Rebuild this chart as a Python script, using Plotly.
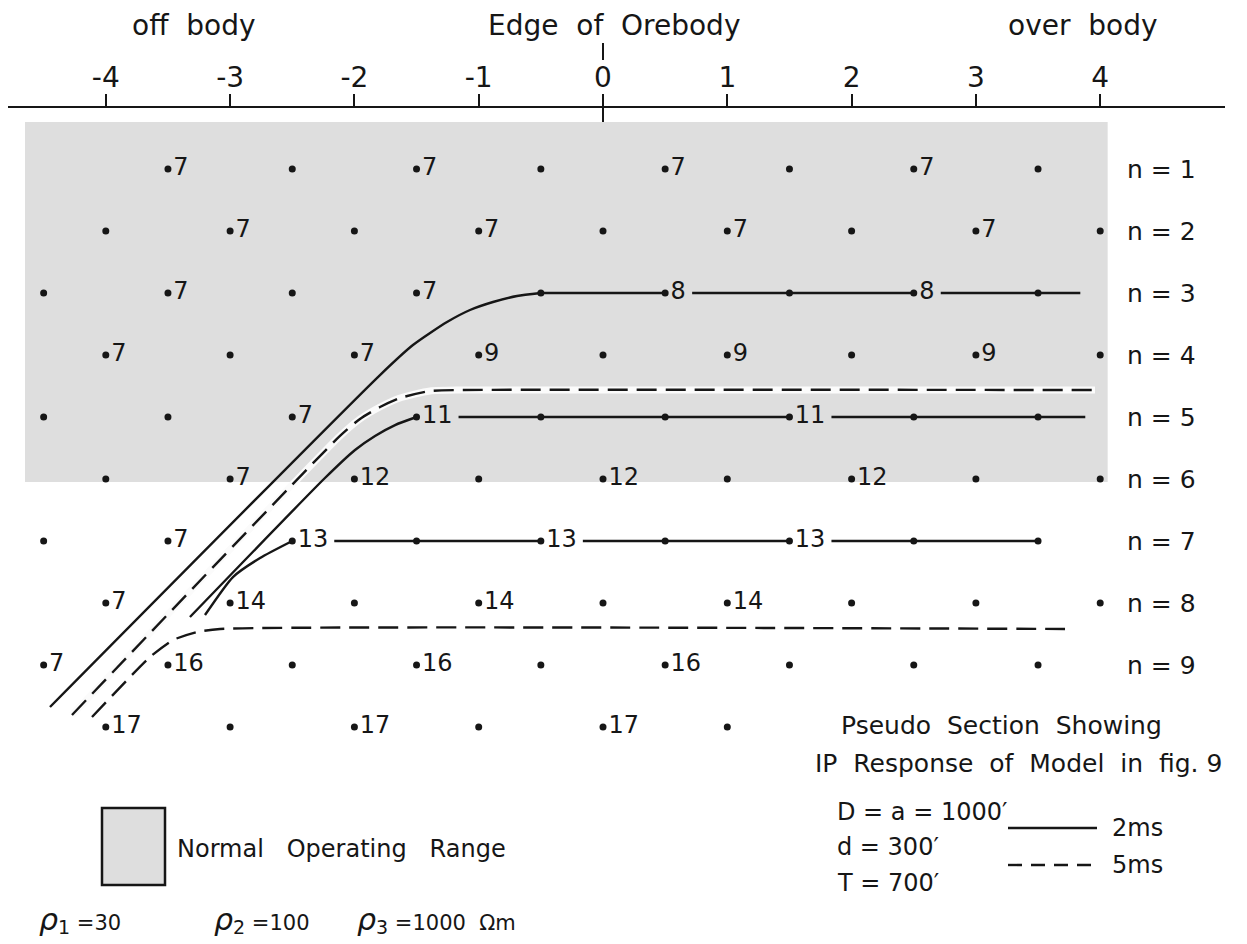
import plotly.graph_objects as go

# ---------------- data ----------------
X_ODD = [-4.5, -3.5, -2.5, -1.5, -0.5, 0.5, 1.5, 2.5, 3.5]
X_EVEN = [-4, -3, -2, -1, 0, 1, 2, 3, 4]

N_LEVELS = [1, 2, 3, 4, 5, 6, 7, 8, 9, 10]

N1_X = X_ODD[1:]
N1_IP = [7, None, 7, None, 7, None, 7, None]
N2_X = X_EVEN
N2_IP = [None, 7, None, 7, None, 7, None, 7, None]
N3_X = X_ODD
N3_IP = [None, 7, None, 7, None, 8, None, 8, None]
N4_X = X_EVEN
N4_IP = [7, None, 7, 9, None, 9, None, 9, None]
N5_X = X_ODD
N5_IP = [None, None, 7, 11, None, None, 11, None, None]
N6_X = X_EVEN
N6_IP = [None, 7, 12, None, 12, None, 12, None, None]
N7_X = X_ODD
N7_IP = [None, 7, 13, None, 13, None, 13, None, None]
N8_X = X_EVEN
N8_IP = [7, 14, None, 14, None, 14, None, None, None]
N9_X = X_ODD
N9_IP = [7, 16, None, 16, None, 16, None, None, None]
N10_X = X_EVEN[:6]
N10_IP = [17, None, 17, None, 17, None]

ROW_X = [N1_X, N2_X, N3_X, N4_X, N5_X, N6_X, N7_X, N8_X, N9_X, N10_X]
ROW_IP = [N1_IP, N2_IP, N3_IP, N4_IP, N5_IP, N6_IP, N7_IP, N8_IP, N9_IP, N10_IP]

TICK_VALS = [-4, -3, -2, -1, 0, 1, 2, 3, 4]
TICK_TEXT = ["-4", "-3", "-2", "-1", "0", "1", "2", "3", "4"]

# contour lines (bend part: X, n), then horizontal part along a row
A_BEND_X = [-4.449, -1.794, -1.529, -1.255, -1.070, -0.885, -0.692, -0.5]
A_BEND_N = [9.677, 4.323, 3.839, 3.468, 3.274, 3.145, 3.048, 3.0]
A_FLAT = (3, -0.5, 3.84)          # 2 ms

B_X = [-4.272, -2.116, -1.955, -1.794, -1.633, -1.392, -1.126, 3.958]
B_N = [9.806, 5.306, 5.032, 4.839, 4.694, 4.581, 4.565, 4.565]   # 5 ms

C_BEND_X = [-3.323, -2.237, -1.995, -1.834, -1.673, -1.5]
C_BEND_N = [8.226, 5.984, 5.532, 5.306, 5.13, 5.0]
C_FLAT = (5, -1.5, 3.88)          # 2 ms

D_BEND_X = [-3.202, -2.977, -2.759, -2.5]
D_BEND_N = [8.194, 7.581, 7.274, 7.0]
D_FLAT = (7, -2.5, 3.5)           # 2 ms

E_X = [-4.111, -3.644, -3.459, -3.266, -3.081, 3.717]
E_N = [9.839, 8.871, 8.597, 8.468, 8.419, 8.419]                  # 5 ms

GRAY_X = (-4.65, 4.06)
GRAY_N = (0.24, 6.05)

# ---------------- geometry ----------------
W, H = 1247, 944
ML, MR, MT, MB = 8, 22, 108, 0
PX0, PXU = 603, 124.3        # pixel of X=0, pixels per unit
PY1, PYU = 169, 62           # pixel of n=1, pixels per level
XR = [(ML - PX0) / PXU, (W - MR - PX0) / PXU]
YR = [1 + (H - MB - PY1) / PYU, 1 + (MT - PY1) / PYU]


def px2x(px):
    return (px - PX0) / PXU


def py2n(py):
    return 1 + (py - PY1) / PYU


def py2paper(py):
    return (H - MB - py) / (H - MT - MB)


FONT = "DejaVu Sans"
INK = "#161616"
LABEL_SIZE = 24


def label_gap(v):
    return (12 + 15 * len(str(v))) / PXU


def flat_line(spec):
    n, x0, x1 = spec
    row_x = ROW_X[n - 1]
    row_v = ROW_IP[n - 1]
    xs, ys = [x0], [n]
    for x, v in sorted(zip(row_x, row_v)):
        if v is None or x < x0 or x >= x1:
            continue
        g = x + label_gap(v)
        if x == x0:
            xs, ys = [g], [n]
        else:
            xs += [x, None, g]
            ys += [n, None, n]
    xs.append(x1)
    ys.append(n)
    return xs, ys


fig = go.Figure()

# faint white halo around upper 5 ms line
fig.add_trace(go.Scatter(x=B_X, y=B_N, mode="lines",
                         line=dict(color="#fbfbfb", width=7, shape="spline", smoothing=0.6),
                         hoverinfo="skip"))


def add_contour(bx, bn, flat, dash):
    xs, ys = list(bx), list(bn)
    if flat is not None:
        fx, fy = flat_line(flat)
        xs += [None] + fx
        ys += [None] + fy
    fig.add_trace(go.Scatter(x=xs, y=ys, mode="lines", connectgaps=False,
                             line=dict(color=INK, width=2.4, dash=dash, shape="spline", smoothing=0.6),
                             hoverinfo="skip"))


add_contour(A_BEND_X, A_BEND_N, A_FLAT, "solid")
add_contour(B_X, B_N, None, "20px,9px")
add_contour(C_BEND_X, C_BEND_N, C_FLAT, "solid")
add_contour(D_BEND_X, D_BEND_N, D_FLAT, "solid")
add_contour(E_X, E_N, None, "20px,9px")

# data points (all) and IP values (labelled points)
for n, xs, vals in zip(N_LEVELS, ROW_X, ROW_IP):
    plain = [x for x, v in zip(xs, vals) if v is None]
    lab_x = [x for x, v in zip(xs, vals) if v is not None]
    lab_t = [str(v) for v in vals if v is not None]
    if plain:
        fig.add_trace(go.Scatter(x=plain, y=[n] * len(plain), mode="markers",
                                 marker=dict(size=7, color=INK), cliponaxis=False, hoverinfo="skip"))
    if lab_x:
        fig.add_trace(go.Scatter(x=lab_x, y=[n] * len(lab_x), mode="markers+text", text=lab_t,
                                 textposition="middle right",
                                 textfont=dict(family=FONT, size=LABEL_SIZE, color=INK),
                                 marker=dict(size=7, color=INK), cliponaxis=False, hoverinfo="skip"))

shapes = [
    dict(type="rect", xref="x", yref="y", x0=GRAY_X[0], x1=GRAY_X[1], y0=GRAY_N[0], y1=GRAY_N[1],
         fillcolor="#dedede", line=dict(width=0), layer="below"),
    # legend swatch
    dict(type="rect", xref="x", yref="y", x0=px2x(102), x1=px2x(165), y0=py2n(808), y1=py2n(885),
         fillcolor="#dedede", line=dict(color=INK, width=2.5)),
    # legend lines
    dict(type="line", xref="x", yref="y", x0=px2x(1008), x1=px2x(1097), y0=py2n(828), y1=py2n(828),
         line=dict(color=INK, width=2.4)),
    dict(type="line", xref="x", yref="y", x0=px2x(1008), x1=px2x(1097), y0=py2n(865), y1=py2n(865),
         line=dict(color=INK, width=2.4, dash="14px,9px")),
    # edge of orebody marks
    dict(type="line", xref="x", yref="paper", x0=0, x1=0, y0=py2paper(108), y1=py2paper(122),
         line=dict(color=INK, width=2)),
    dict(type="line", xref="x", yref="paper", x0=0, x1=0, y0=py2paper(43), y1=py2paper(60),
         line=dict(color=INK, width=2)),
]


def ann(text, px, py, size=26, anchor="left"):
    return dict(text=text, x=px2x(px), y=py2paper(py), xref="x", yref="paper", showarrow=False,
                xanchor=anchor, yanchor="middle", font=dict(family=FONT, size=size, color=INK))


RHO = "<i><span style='font-size:30px'>ρ</span></i>"


def rho(k, rest):
    return RHO + f"<sub><span style='font-size:19px'>{k}</span></sub>" + rest


annotations = [
    ann("off  body", 193, 25, 28, "center"),
    ann("Edge  of  Orebody", 614, 25, 28, "center"),
    ann("over  body", 1083, 25, 28, "center"),
    ann("Pseudo  Section  Showing", 1001, 725, 25, "center"),
    ann("IP  Response  of  Model  in  fig. 9", 1018, 763, 25, "center"),
    ann("D = a = 1000′", 835, 812, 24),
    ann("d = 300′", 835, 847, 24),
    ann("T = 700′", 835, 883, 24),
    ann("2ms", 1110, 828, 24),
    ann("5ms", 1110, 865, 24),
    ann("Normal   Operating   Range", 175, 849, 24),
    ann(rho(1, " =30"), 37, 920, 21),
    ann(rho(2, " =100"), 212, 920, 21),
    ann(rho(3, " =1000  Ωm"), 355, 920, 21),
]
for n in N_LEVELS[:9]:
    annotations.append(dict(text=f"n = {n}", x=px2x(1125), y=n, xref="x", yref="y", showarrow=False,
                            xanchor="left", yanchor="middle", font=dict(family=FONT, size=25, color=INK)))

fig.update_layout(
    width=W, height=H, margin=dict(l=ML, r=MR, t=MT, b=MB, pad=0),
    paper_bgcolor="white", plot_bgcolor="white", showlegend=False,
    xaxis=dict(side="top", range=XR, tickvals=TICK_VALS, ticktext=TICK_TEXT, ticks="outside",
               ticklen=12, tickwidth=2, tickcolor=INK, showline=True, linecolor=INK, linewidth=2,
               showgrid=False, zeroline=False, tickfont=dict(family=FONT, size=28, color=INK),
               ticklabelstandoff=-4, fixedrange=True),
    yaxis=dict(range=YR, visible=False, showgrid=False, zeroline=False, fixedrange=True),
    shapes=shapes, annotations=annotations,
)

fig.write_html("out.html")
